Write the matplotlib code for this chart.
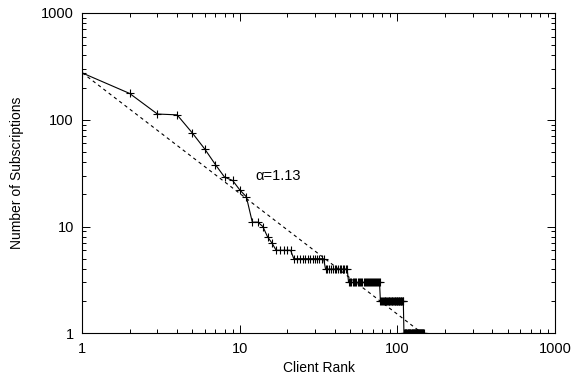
import numpy as np
import matplotlib
matplotlib.use("Agg")
import matplotlib.pyplot as plt
from matplotlib.ticker import LogLocator, FixedLocator, NullFormatter

plt.rcParams["font.family"] = ["Liberation Sans", "DejaVu Sans"]

# subscriptions for the first 16 ranks
head_counts = [274, 176, 113, 111, 75, 53, 38, 29, 27, 22, 19, 11, 11, 10, 8, 7]

# flat tail: (first rank, last rank, subscriptions)
tail_steps = [
    (17, 21, 6),
    (22, 34, 5),
    (35, 48, 4),
    (49, 77, 3),
    (78, 109, 2),
    (110, 147, 1),
]

ALPHA = 1.13
FIT_C = 275
FIT_X = [1, 145]


def build_series():
    ranks = list(range(1, len(head_counts) + 1))
    counts = list(head_counts)
    for lo, hi, val in tail_steps:
        for r in range(lo, hi + 1):
            ranks.append(r)
            counts.append(val)
    return np.array(ranks), np.array(counts)


def main() -> None:
    ranks, counts = build_series()

    fig = plt.figure(figsize=(5.71, 3.78), dpi=100)
    ax = fig.add_axes([0.144, 0.118, 0.828, 0.848])

    ax.plot(ranks, counts, color="black", linewidth=0.8, marker="+",
            markersize=6, markeredgewidth=0.8)

    fx = np.array(FIT_X, dtype=float)
    ax.plot(fx, FIT_C * fx ** (-ALPHA), color="black", linewidth=0.8,
            linestyle=(0, (3, 3)))

    ax.text(12.5, 29.5, "\u03b1=1.13", fontsize=10.5, ha="left", va="center")

    ax.set_xscale("log")
    ax.set_yscale("log")
    ax.set_xlim(1, 1000)
    ax.set_ylim(1, 1000)

    ax.xaxis.set_major_locator(FixedLocator([1, 10, 100, 1000]))
    ax.yaxis.set_major_locator(FixedLocator([1, 10, 100, 1000]))
    ax.set_xticklabels(["1", "10", "100", "1000"])
    ax.set_yticklabels(["1", "10", "100", "1000"])
    ax.xaxis.set_minor_locator(LogLocator(base=10, subs=np.arange(2, 10)))
    ax.yaxis.set_minor_locator(LogLocator(base=10, subs=np.arange(2, 10)))
    ax.xaxis.set_minor_formatter(NullFormatter())
    ax.yaxis.set_minor_formatter(NullFormatter())

    ax.tick_params(which="both", direction="in", top=True, right=True,
                   labelsize=10.5, width=0.7)
    ax.tick_params(which="major", length=6, pad=6)
    ax.tick_params(which="minor", length=3)
    for s in ax.spines.values():
        s.set_linewidth(0.8)

    ax.set_xlabel("Client Rank", fontsize=10, labelpad=4)
    ax.set_ylabel("Number of Subscriptions", fontsize=10, labelpad=12)

    fig.savefig("out.png", dpi=100)
    plt.close(fig)


if __name__ == "__main__":
    main()
